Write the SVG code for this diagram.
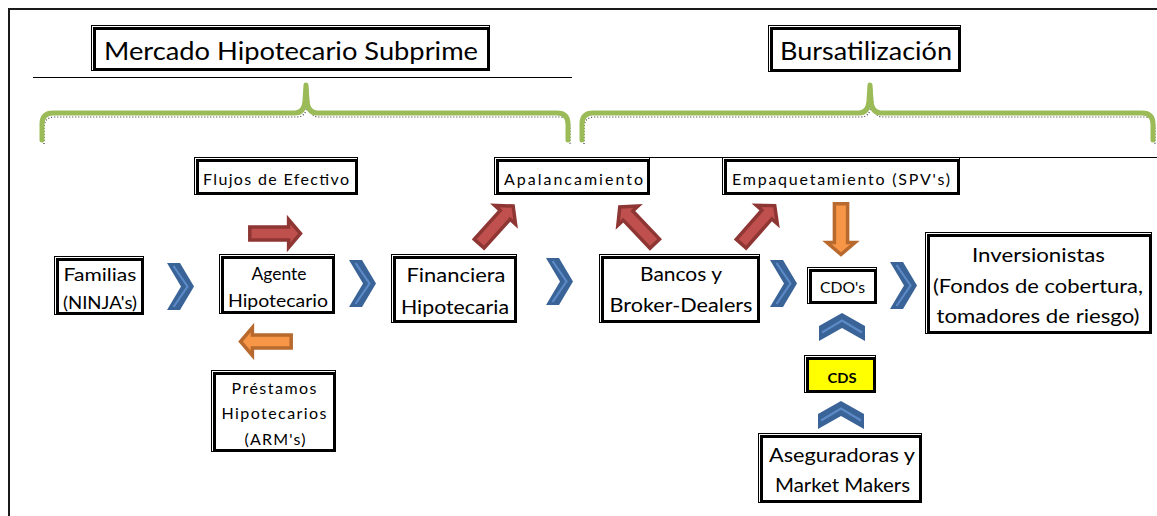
<svg xmlns="http://www.w3.org/2000/svg" xmlns:xlink="http://www.w3.org/1999/xlink" width="1157" height="516" viewBox="0 0 1157 516">
  <style>
    text { font-family: Lato, "Open Sans", "Liberation Sans", sans-serif; fill: #000; text-anchor: middle; }
    .thin { fill: none; stroke: #000; stroke-width: 1; }
    .thick { fill: none; stroke: #000; stroke-width: 3; }
    .title { font-size: 25px; }
    .lbl { font-size: 16px; }
    .med { font-size: 17.5px; }
    .big { font-size: 19.5px; }
    .brace { fill: none; stroke: #9BBB59; stroke-width: 5; stroke-linecap: round; stroke-linejoin: round; }
    .dots { fill: none; stroke: #333; stroke-width: 1.2; stroke-dasharray: 1 2; }
    .red { fill: #C0504D; stroke: #8E3634; stroke-width: 3.5; stroke-linejoin: miter; }
    .orange { fill: #F79646; stroke: #B8692E; stroke-width: 3.5; stroke-linejoin: miter; }
    .chev { fill: #3A6398; }
    .chevline { fill: none; stroke: #5B8AC6; stroke-width: 2.2; stroke-linejoin: miter; }
  </style>
  <defs>
    <!-- block arrow pointing along +x, tail at origin -->
    <path id="blockArrow" d="M1.8,-6.6 H40.6 V-14 L52.5,0 L40.6,14 V6.6 H1.8 Z"/>
    <!-- right-pointing chevron -->
    <g id="chevRight">
      <polygon class="chev" points="0,0 13,0 27,23.5 13,47 0,47 14,23.5"/>
      <polyline class="chevline" points="6.5,3 20.5,23.5 6.5,44"/>
    </g>
    <!-- upward chevron -->
    <g id="chevUp">
      <polygon class="chev" points="0,13 23,0 46,13 46,28 23,15 0,28"/>
      <polyline class="chevline" points="3,19.5 23,7.5 43,19.5"/>
    </g>
    <path id="braceL" d="M42,140 V124 Q42,113 53,113 H295 Q304,113 305,101 L306,85 L307,101 Q308,113 317,113 H557 Q568,113 568,124 V140"/>
    <path id="braceR" d="M582,140 V124 Q582,113 593,113 H859 Q868,113 869,101 L870,85 L871,101 Q872,113 881,113 H1142 Q1153,113 1153,124 V140"/>
  </defs>

  <!-- outer frame -->
  <path d="M9,516 V9 H1157" fill="none" stroke="#1a1a1a" stroke-width="2"/>

  <!-- section headers -->
  <g id="mercado">
    <rect class="thin" x="91.5" y="25.5" width="398" height="45"/>
    <rect class="thick" x="94.5" y="28.5" width="394" height="41"/>
    <text class="title" x="291" y="60" textLength="374" lengthAdjust="spacingAndGlyphs">Mercado Hipotecario Subprime</text>
  </g>
  <line x1="33" y1="77.5" x2="572" y2="77.5" stroke="#000" stroke-width="1"/>
  <g id="bursatilizacion">
    <rect class="thin" x="768.5" y="25.5" width="192" height="46"/>
    <rect class="thick" x="771.5" y="28.5" width="188" height="42"/>
    <text class="title" x="866" y="60" textLength="172" lengthAdjust="spacingAndGlyphs">Bursatilización</text>
  </g>

  <!-- braces -->
  <g id="braces">
    <use href="#braceL" class="dots" transform="translate(2,4)"/>
    <use href="#braceR" class="dots" transform="translate(2,4)"/>
    <use href="#braceL" class="brace"/>
    <use href="#braceR" class="brace"/>
  </g>

  <line x1="494" y1="157.5" x2="1157" y2="157.5" stroke="#000" stroke-width="1"/>

  <!-- connectors: chevrons and block arrows -->
  <g id="connectors">
    <use href="#chevRight" x="167" y="263"/>
    <use href="#chevRight" x="349" y="260"/>
    <use href="#chevRight" x="546" y="258"/>
    <use href="#chevRight" x="770" y="260"/>
    <use href="#chevRight" x="890" y="262"/>
    <use href="#chevUp" x="819" y="313"/>
    <use href="#chevUp" x="818" y="401"/>

    <use href="#blockArrow" class="red" transform="translate(248,233.5)"/>
    <use href="#blockArrow" class="orange" transform="translate(293,341.5) rotate(180)"/>
    <use href="#blockArrow" class="orange" transform="translate(841,202) rotate(90)"/>
    <use href="#blockArrow" class="red" transform="translate(478,245) rotate(-48)"/>
    <use href="#blockArrow" class="red" transform="translate(656,245) rotate(-133.6)"/>
    <use href="#blockArrow" class="red" transform="translate(740,245) rotate(-48.6)"/>
  </g>

  <!-- nodes -->
  <g id="flujos">
    <rect class="thin" x="194.5" y="157.5" width="163" height="37"/>
    <rect class="thick" x="197.5" y="160.5" width="159" height="33"/>
    <text class="lbl" x="276" y="185" textLength="146" lengthAdjust="spacing">Flujos de Efectivo</text>
  </g>

  <g id="familias">
    <rect class="thin" x="54.5" y="256.5" width="89" height="58"/>
    <rect class="thick" x="57.5" y="259.5" width="85" height="54"/>
    <text class="med" x="100" y="281" textLength="73" lengthAdjust="spacingAndGlyphs">Familias</text>
    <text class="med" x="100" y="309" textLength="74" lengthAdjust="spacingAndGlyphs">(NINJA's)</text>
  </g>

  <g id="agente">
    <rect class="thin" x="219.5" y="254.5" width="115" height="59"/>
    <rect class="thick" x="222.5" y="257.5" width="111" height="55"/>
    <text class="med" x="279" y="280" textLength="55" lengthAdjust="spacingAndGlyphs">Agente</text>
    <text class="med" x="278" y="307" textLength="100" lengthAdjust="spacingAndGlyphs">Hipotecario</text>
  </g>

  <g id="prestamos">
    <rect class="thin" x="211.5" y="370.5" width="124" height="81"/>
    <rect class="thick" x="214.5" y="373.5" width="120" height="77"/>
    <text class="lbl" x="274" y="394" textLength="85" lengthAdjust="spacing">Préstamos</text>
    <text class="lbl" x="274" y="419" textLength="105" lengthAdjust="spacing">Hipotecarios</text>
    <text class="lbl" x="275" y="445" textLength="61" lengthAdjust="spacing">(ARM's)</text>
  </g>

  <g id="financiera">
    <rect class="thin" x="391.5" y="254.5" width="125" height="68"/>
    <rect class="thick" x="394.5" y="257.5" width="121" height="64"/>
    <text class="big" x="456" y="282" textLength="99" lengthAdjust="spacingAndGlyphs">Financiera</text>
    <text class="big" x="455" y="314" textLength="108" lengthAdjust="spacingAndGlyphs">Hipotecaria</text>
  </g>

  <g id="apalancamiento">
    <rect class="thin" x="494.5" y="157.5" width="155" height="37"/>
    <rect class="thick" x="497.5" y="160.5" width="151" height="33"/>
    <text class="lbl" x="573.5" y="185" textLength="139" lengthAdjust="spacing">Apalancamiento</text>
  </g>

  <g id="bancos">
    <rect class="thin" x="599.5" y="254.5" width="160" height="68"/>
    <rect class="thick" x="602.5" y="257.5" width="156" height="64"/>
    <text class="big" x="681" y="281" textLength="82" lengthAdjust="spacingAndGlyphs">Bancos y</text>
    <text class="big" x="681" y="312" textLength="143" lengthAdjust="spacingAndGlyphs">Broker-Dealers</text>
  </g>

  <g id="empaquetamiento">
    <rect class="thin" x="722.5" y="157.5" width="237" height="37"/>
    <rect class="thick" x="725.5" y="160.5" width="233" height="33"/>
    <text class="lbl" x="841" y="185" textLength="218" lengthAdjust="spacing">Empaquetamiento (SPV's)</text>
  </g>

  <g id="cdos">
    <rect class="thin" x="807.5" y="267.5" width="69" height="36"/>
    <rect class="thick" x="810.5" y="270.5" width="65" height="32"/>
    <text x="842.5" y="293" font-size="14.5" textLength="45" lengthAdjust="spacingAndGlyphs">CDO's</text>
  </g>

  <g id="inversionistas">
    <rect class="thin" x="925.5" y="232.5" width="226" height="101"/>
    <rect class="thick" x="928.5" y="235.5" width="222" height="97"/>
    <text x="1038.5" y="262" font-size="18.5" textLength="133" lengthAdjust="spacingAndGlyphs">Inversionistas</text>
    <text x="1038" y="293" font-size="18.5" textLength="210" lengthAdjust="spacingAndGlyphs">(Fondos de cobertura,</text>
    <text x="1038" y="323" font-size="18.5" textLength="203" lengthAdjust="spacingAndGlyphs">tomadores de riesgo)</text>
  </g>

  <g id="cds">
    <rect class="thin" x="804.5" y="355.5" width="71" height="37"/>
    <rect x="807.5" y="358.5" width="67" height="33" fill="#FFFF00" stroke="#000" stroke-width="3"/>
    <text x="842" y="383" font-size="14" font-weight="bold" textLength="29" lengthAdjust="spacingAndGlyphs">CDS</text>
  </g>

  <g id="aseguradoras">
    <rect class="thin" x="758.5" y="433.5" width="163" height="69"/>
    <rect class="thick" x="761.5" y="436.5" width="159" height="65"/>
    <text class="big" x="842" y="462" textLength="146" lengthAdjust="spacingAndGlyphs">Aseguradoras y</text>
    <text class="big" x="842.5" y="492" textLength="135" lengthAdjust="spacingAndGlyphs">Market Makers</text>
  </g>
</svg>
